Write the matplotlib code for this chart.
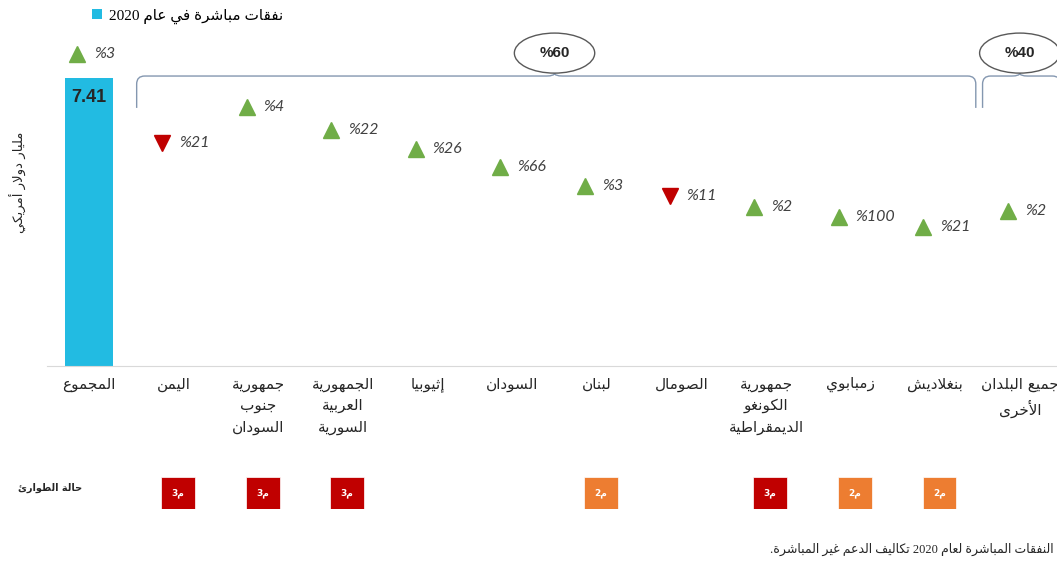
import re
import matplotlib
matplotlib.use('Agg')
import matplotlib.pyplot as plt
from matplotlib.patches import Ellipse, PathPatch
from matplotlib.path import Path

#------------------------------------------------------------------------------
# data
categories = ['المجموع', 'اليمن', 'جمهورية\nجنوب\nالسودان',
              'الجمهورية\nالعربية\nالسورية', 'إثيوبيا', 'السودان', 'لبنان',
              'الصومال', 'جمهورية\nالكونغو\nالديمقراطية', 'زمبابوي',
              'بنغلاديش', 'جميع البلدان\nالأخرى']
total_value = 7.41
change_pct = [3, 21, 4, 22, 26, 66, 3, 11, 2, 100, 21, 2]
change_up = [True, False, True, True, True, True, True, False, True, True, True, True]
marker_level = [8.03, 5.74, 6.66, 6.07, 5.58, 5.12, 4.63, 4.37, 4.09, 3.83, 3.58, 3.99]
emergency_level = [None, 3, 3, 3, None, None, 2, None, 3, 2, 2, None]
group_labels = ['%60', '%40']
group_spans = [(1, 10), (11, 11)]

legend_text = 'نفقات مباشرة في عام 2020'
y_label = 'مليار دولار أمريكي'
emergency_title = 'حالة الطوارئ'
footnote = 'النفقات المباشرة لعام 2020 تكاليف الدعم غير المباشرة.'

#------------------------------------------------------------------------------
# minimal arabic shaping (matplotlib has no rtl layout)
DUAL = {'ئ': 0xFE89, 'ب': 0xFE8F, 'ت': 0xFE95, 'ث': 0xFE99, 'ج': 0xFE9D,
        'ح': 0xFEA1, 'خ': 0xFEA5, 'س': 0xFEB1, 'ش': 0xFEB5, 'ص': 0xFEB9,
        'ض': 0xFEBD, 'ط': 0xFEC1, 'ظ': 0xFEC5, 'ع': 0xFEC9, 'غ': 0xFECD,
        'ف': 0xFED1, 'ق': 0xFED5, 'ك': 0xFED9, 'ل': 0xFEDD, 'م': 0xFEE1,
        'ن': 0xFEE5, 'ه': 0xFEE9, 'ي': 0xFEF1}
RIGHT = {'آ': 0xFE81, 'أ': 0xFE83, 'ؤ': 0xFE85, 'إ': 0xFE87, 'ا': 0xFE8D,
         'ة': 0xFE93, 'د': 0xFEA9, 'ذ': 0xFEAB, 'ر': 0xFEAD, 'ز': 0xFEAF,
         'و': 0xFEED, 'ى': 0xFEEF}
LAMALEF = {'آ': 0xFEF5, 'أ': 0xFEF7, 'إ': 0xFEF9, 'ا': 0xFEFB}


def shape(s):
    out = []
    prev_joins = False
    i = 0
    while i < len(s):
        c = s[i]
        nxt = s[i+1] if i+1 < len(s) else ''
        if c == 'ل' and nxt in LAMALEF:
            out.append(chr(LAMALEF[nxt]+(1 if prev_joins else 0)))
            prev_joins = False
            i += 2
            continue
        if c in DUAL:
            nj = nxt in DUAL or nxt in RIGHT
            f = 3 if (prev_joins and nj) else 1 if prev_joins else 2 if nj else 0
            out.append(chr(DUAL[c]+f))
            prev_joins = True
        elif c in RIGHT:
            out.append(chr(RIGHT[c]+(1 if prev_joins else 0)))
            prev_joins = False
        else:
            out.append(c)
            prev_joins = False
        i += 1
    return ''.join(out)


def ar(text):
    lines = []
    for line in text.split('\n'):
        v = shape(line)[::-1]
        v = re.sub(r'[0-9]+', lambda m: m.group(0)[::-1], v)
        lines.append(v)
    return '\n'.join(lines)

#------------------------------------------------------------------------------
W, H = 1057, 562
fig = plt.figure(figsize=(W/100, H/100), dpi=100)

ax = fig.add_axes([47/W, (H-366)/H, 1010/W, 326/H])
x = list(range(len(categories)))

ax.bar([0], [total_value], width=0.57, color='#22BBE2', label=ar(legend_text), zorder=2)
ax.text(0, 6.92, f'{total_value:.2f}', ha='center', va='center',
        fontsize=13, fontweight='bold', color='#262626', family='Liberation Sans')

for i in x:
    mk = '^' if change_up[i] else 'v'
    col = '#70AD47' if change_up[i] else '#C00000'
    ax.plot(i-0.14, marker_level[i], marker=mk, color=col, markersize=11,
            linestyle='none', clip_on=False)
    ax.text(i+0.06, marker_level[i], f'%{change_pct[i]}', ha='left', va='center',
            fontsize=11.5, style='italic', color='#404040', family='Lato')

ax.set_xlim(-0.5, 11.44)
ax.set_ylim(0, 8.387)
ax.set_xticks(x)
ax.set_xticklabels([ar(c) for c in categories], fontsize=11, color='#262626',
                   family='DejaVu Sans', linespacing=1.5)
ax.tick_params(axis='x', length=0, pad=8)
ax.set_yticks([])
for s in ['top', 'left', 'right']:
    ax.spines[s].set_visible(False)
ax.spines['bottom'].set_color('#D9D9D9')

# braces and share bubbles
px_x = 1/84.6
px_y = 1/38.87
ytop = 7.46
ybot = 6.64
for (a, b), lab in zip(group_spans, group_labels):
    x0 = a-0.5+0.06
    x1 = b+0.5-0.02
    xm = (a+b)/2
    if a == b:
        xm = a
    cx, cy = 8*px_x, 8*px_y
    verts = [(x0, ybot), (x0, ytop-cy), (x0, ytop), (x0+cx, ytop),
             (xm-cx, ytop), (xm, ytop), (xm, ytop+3*px_y),
             (xm, ytop), (xm+cx, ytop),
             (x1-cx, ytop), (x1, ytop), (x1, ytop-cy), (x1, ybot)]
    codes = [Path.MOVETO, Path.LINETO, Path.CURVE3, Path.CURVE3,
             Path.LINETO, Path.CURVE3, Path.CURVE3,
             Path.CURVE3, Path.CURVE3,
             Path.LINETO, Path.CURVE3, Path.CURVE3, Path.LINETO]
    ax.add_patch(PathPatch(Path(verts, codes), fill=False, edgecolor='#8497B0',
                           lw=1, clip_on=False))
    ax.add_patch(Ellipse((xm, 8.05), 0.95, 1.03, facecolor='white',
                         edgecolor='#595959', lw=1, clip_on=False, zorder=3))
    ax.text(xm, 8.05, lab, ha='center', va='center', fontsize=11,
            fontweight='bold', color='#262626', family='Liberation Sans', zorder=4)

# legend
fig.legend(loc='center left', bbox_to_anchor=(78/W, 1-16/H), frameon=False,
           handlelength=0.7, handleheight=0.7, handletextpad=0.4,
           prop={'family': ['Liberation Serif', 'DejaVu Sans'], 'size': 11})

fig.text(18/W, 1-182/H, ar(y_label), rotation=90, ha='center', va='center',
         fontsize=9.5, color='#262626', family='DejaVu Sans')

# emergency row
ax2 = fig.add_axes([47/W, (H-509)/H, 1010/W, 32/H])
ax2.set_xlim(-0.5, 11.44)
ax2.set_ylim(0, 1)
ax2.axis('off')
for i in x:
    lvl = emergency_level[i]
    if lvl is None:
        continue
    col = '#C00000' if lvl == 3 else '#ED7D31'
    ax2.bar(i+0.05, 1, width=0.40, bottom=0, color=col, edgecolor='white', lw=0.5)
    ax2.text(i+0.05, 0.5, ar(f'م{lvl}'), ha='center', va='center', fontsize=6.5,
             fontweight='bold', color='white', family='DejaVu Sans')

fig.text(50/W, 1-488/H, ar(emergency_title), ha='center', va='center',
         fontsize=7, fontweight='bold', color='#262626', family='DejaVu Sans')

fig.text(1054/W, 1-549/H, ar(footnote), ha='right', va='center', fontsize=9,
         color='#262626', family=['Liberation Serif', 'DejaVu Sans'])

fig.savefig('out.png', dpi=100)
